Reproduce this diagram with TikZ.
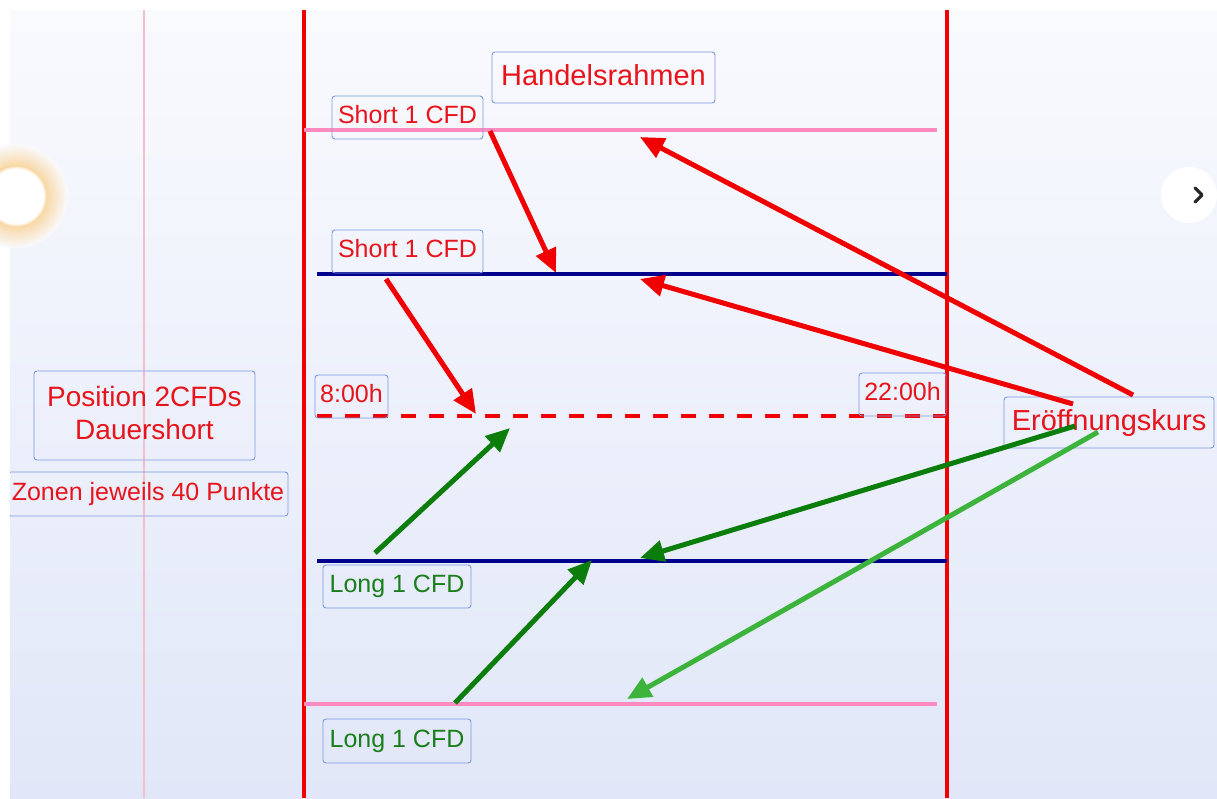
\documentclass[tikz,border=0pt]{standalone}
\usepackage{fontspec}
\setmainfont{Liberation Sans}
\usetikzlibrary{arrows.meta}
\definecolor{bgtop}{HTML}{F9FAFE}
\definecolor{bgbot}{HTML}{E1E7F8}
\definecolor{fred}{HTML}{F00000}
\definecolor{tred}{HTML}{E8141C}
\definecolor{dgreen}{HTML}{0A7D0A}
\definecolor{lgreen}{HTML}{3CB43C}
\definecolor{tgreen}{HTML}{1A7F1A}
\definecolor{navy}{HTML}{00008C}
\definecolor{pinkl}{HTML}{FF8AC0}
\definecolor{thinpink}{HTML}{F2BFCB}
\definecolor{boxblue}{HTML}{7C98DE}
\definecolor{glowc}{HTML}{F8D39A}
\pgfdeclareradialshading{glow}{\pgfpoint{0bp}{0bp}}{color(0bp)=(glowc); color(13bp)=(glowc); color(25bp)=(bgtop); color(50bp)=(bgtop)}
\pgfdeclareradialshading{softwhite}{\pgfpoint{0bp}{0bp}}{color(0bp)=(white); color(22bp)=(white); color(25bp)=(glowc); color(50bp)=(glowc)}
\begin{document}
\begin{tikzpicture}[x=1pt,y=-1pt,
  lblbox/.style={draw=boxblue, line width=0.9pt, rounded corners=3pt, inner sep=0pt, align=center},
  bigtxt/.style={font=\fontsize{29}{34}\selectfont, text height=21pt, text depth=5pt},
  smalltxt/.style={font=\fontsize{25}{30}\selectfont, text height=18pt, text depth=6pt},
  arr/.style={line width=5pt, -{Triangle[length=24pt,width=21pt]}},
  vline/.style={fred, line width=3.5pt},
  hpink/.style={pinkl, line width=3.5pt},
  hnavy/.style={navy, line width=3.5pt}]
\useasboundingbox (0,0) rectangle (1217,798);
\fill[white] (0,0) rectangle (1217,798);
\begin{scope}
\clip (10,10) rectangle (1217,798);
\shade[top color=bgtop,bottom color=bgbot] (10,10) rectangle (1217,798);
% thin pink vertical
\draw[thinpink, line width=1.2pt] (144,10) -- (144,798);
% frame verticals
\draw[vline] (304,10) -- (304,798);
\draw[vline] (947,10) -- (947,798);
% horizontals
\draw[hpink] (304,130) -- (937,130);
\draw[hnavy] (317,274) -- (947,274);
\draw[fred, line width=3.5pt, dash pattern=on 15pt off 13pt] (317,416) -- (947,416);
\draw[hnavy] (317,561) -- (947,561);
\draw[hpink] (304,704) -- (937,704);
% right button
\fill[white] (1189,195) circle (28pt);
\draw[black!85, line width=3.2pt, line cap=round, line join=round] (1195,188) -- (1202,195) -- (1195,202);
% labels
\node[lblbox, bigtxt, text=tred, minimum width=223pt, minimum height=51pt] (hr) at (603.5,77.5) {Handelsrahmen};
\node[lblbox, smalltxt, text=tred, minimum width=151pt, minimum height=43pt] (s1) at (407.5,117.5) {Short 1 CFD};
\node[lblbox, smalltxt, text=tred, minimum width=151pt, minimum height=43pt] (s2) at (407.5,251.5) {Short 1 CFD};
\node[lblbox, smalltxt, text=tred, minimum width=73pt, minimum height=43pt] (t8) at (351.5,396.5) {8:00h};
\node[lblbox, smalltxt, text=tred, minimum width=87pt, minimum height=43pt] (t22) at (902.5,394.5) {22:00h};
\node[lblbox, text=tred, minimum width=221pt, minimum height=89pt] (pos) at (144.5,415.5) {};
\node[font=\fontsize{28}{33}\selectfont, text=tred, align=center, inner sep=0pt] (post) at (144.5,413) {Position 2CFDs\\Dauershort};
\node[lblbox, smalltxt, text=tred, minimum width=280pt, minimum height=44pt] (zon) at (148,494) {Zonen jeweils 40 Punkte};
\node[lblbox, bigtxt, text=tred, minimum width=210pt, minimum height=51pt] (ek) at (1109,422.5) {Eröffnungskurs};
\node[lblbox, smalltxt, text=tgreen, minimum width=148pt, minimum height=43pt] (l1) at (397,586.5) {Long 1 CFD};
\node[lblbox, smalltxt, text=tgreen, minimum width=148pt, minimum height=44pt] (l2) at (397,741) {Long 1 CFD};
% arrow end points
\coordinate (a1s) at (490,131);  \coordinate (a1e) at (556,273);
\coordinate (a2s) at (1133,395); \coordinate (a2e) at (640,137);
\coordinate (a3s) at (1073,404); \coordinate (a3e) at (640,279);
\coordinate (a4s) at (386,279);  \coordinate (a4e) at (476,414);
\coordinate (a5s) at (375,553);  \coordinate (a5e) at (510,428);
\coordinate (a6s) at (1075,426); \coordinate (a6e) at (640,558);
\coordinate (a7s) at (1098,432); \coordinate (a7e) at (627,699);
\coordinate (a8s) at (455,703);  \coordinate (a8e) at (592,560);
\draw[arr, fred] (a1s) -- (a1e);
\draw[arr, fred] (a2s) -- (a2e);
\draw[arr, fred] (a3s) -- (a3e);
\draw[arr, fred] (a4s) -- (a4e);
\draw[arr, dgreen] (a5s) -- (a5e);
\draw[arr, dgreen] (a6s) -- (a6e);
\draw[arr, lgreen] (a7s) -- (a7e);
\draw[arr, dgreen] (a8s) -- (a8e);
\end{scope}
% left glow button
\shade[shading=glow] (16,196) circle (52pt);
\shade[shading=softwhite] (16,196) circle (31pt);
\end{tikzpicture}
\end{document}
